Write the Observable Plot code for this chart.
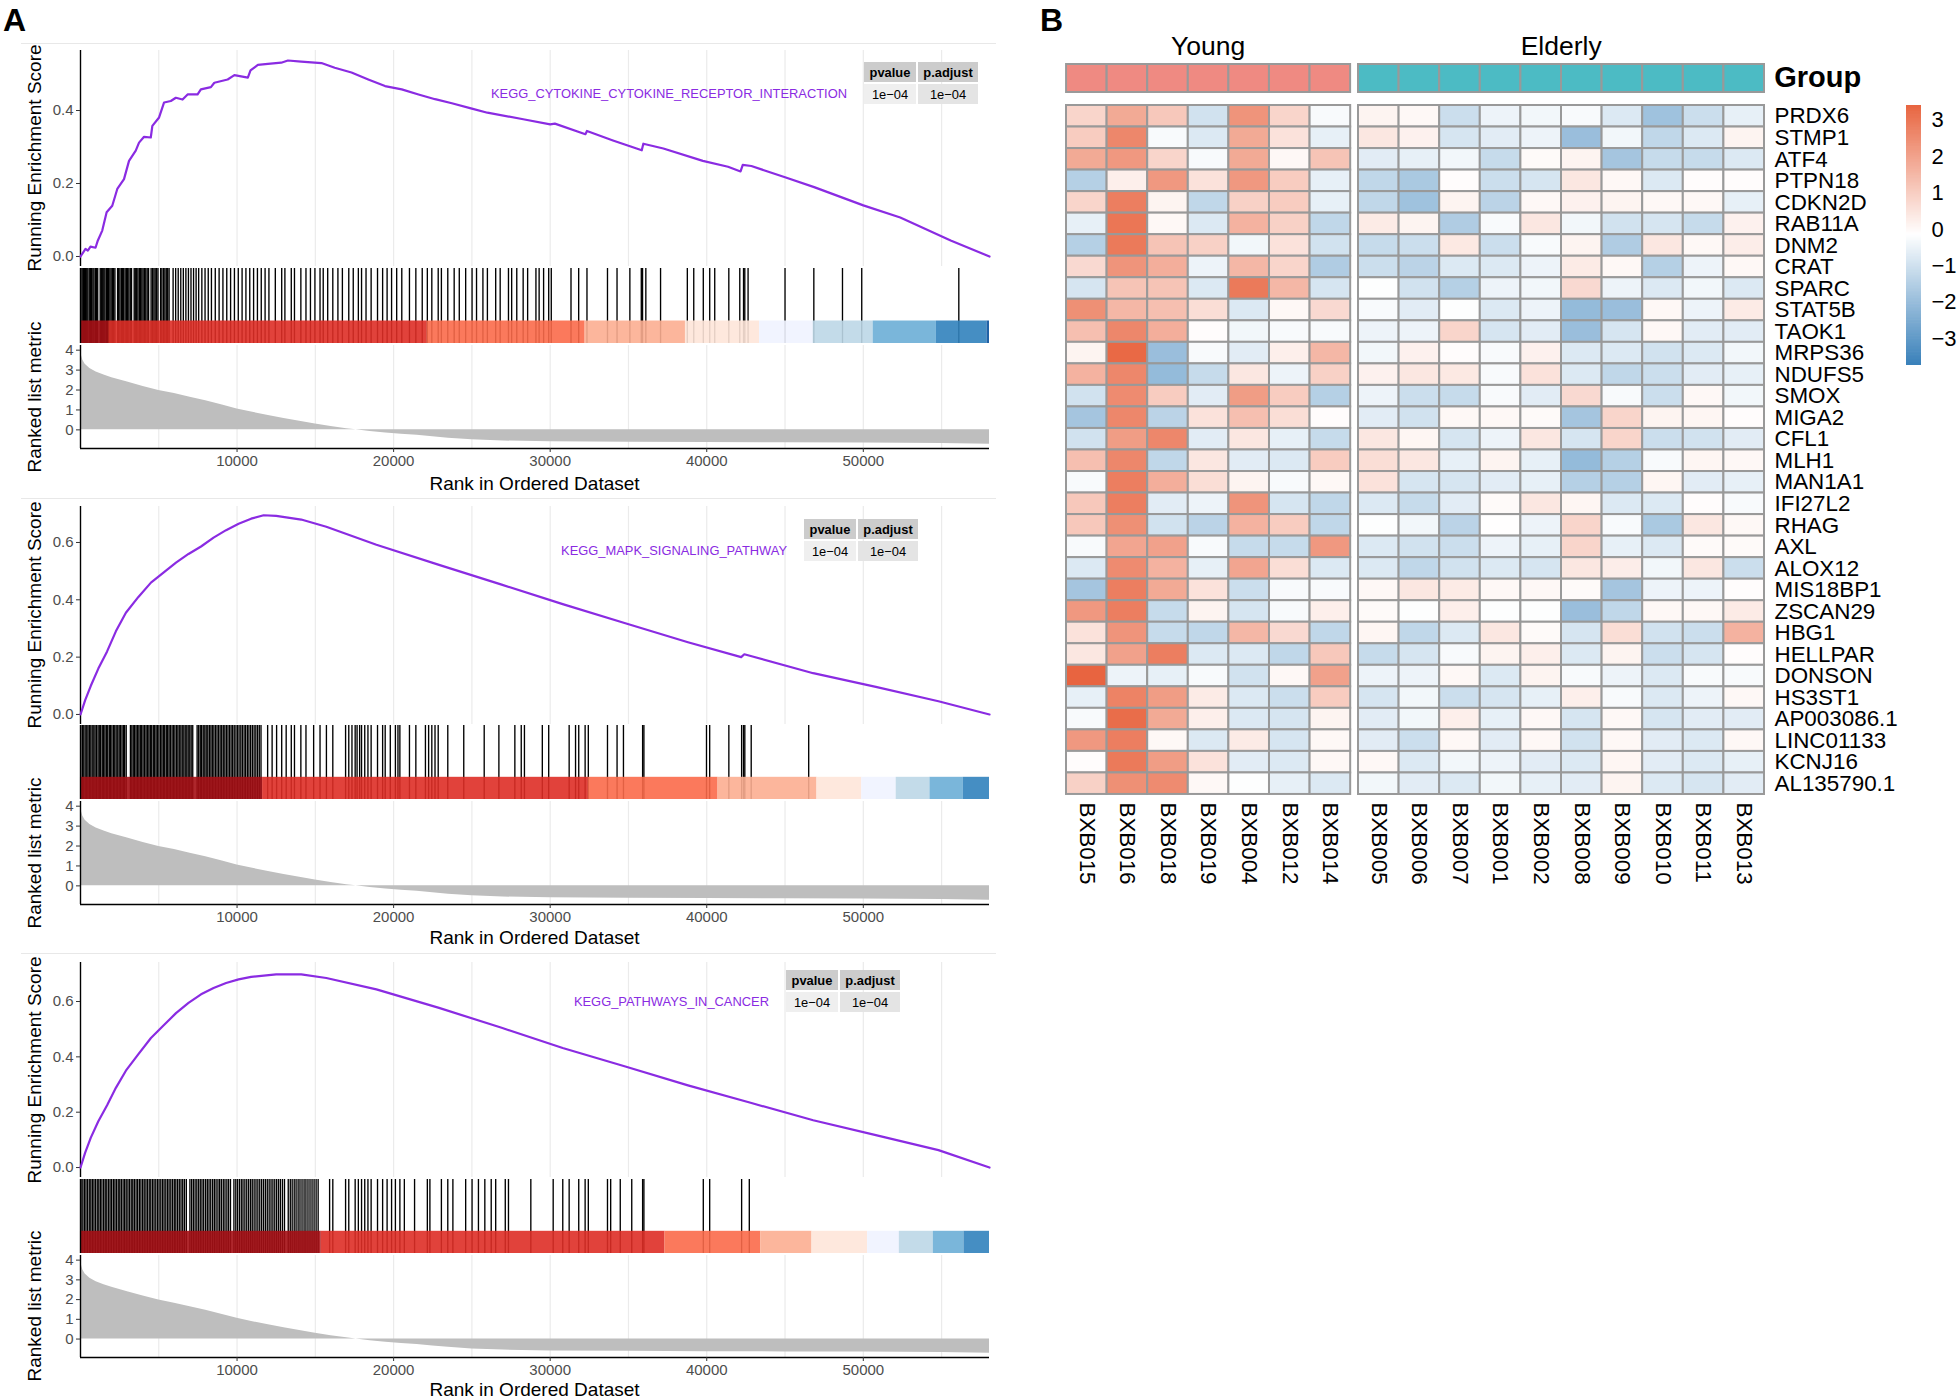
<!DOCTYPE html>
<html>
<head>
<meta charset="utf-8">
<script src="https://cdn.jsdelivr.net/npm/d3@7"></script>
<script src="https://cdn.jsdelivr.net/npm/@observablehq/plot@0.6"></script>
<style>
  html, body { margin: 0; padding: 0; background: #fff; }
  #root { position: relative; width: 1960px; height: 1399px; overflow: hidden; background: #fff;
          font-family: "Liberation Sans", Arial, Helvetica, sans-serif; }
  #root svg { overflow: visible; }
</style>
</head>
<body>
<div id="root"></div>
<script>
// ===================== DATA =====================
const pathways = ["KEGG_CYTOKINE_CYTOKINE_RECEPTOR_INTERACTION", "KEGG_MAPK_SIGNALING_PATHWAY", "KEGG_PATHWAYS_IN_CANCER"];
const pvalues = [1e-4, 1e-4, 1e-4];
const padjust = [1e-4, 1e-4, 1e-4];
const N_RANKED = 58060;
const rankTicks = [10000, 20000, 30000, 40000, 50000];
const metricTicks = [0, 1, 2, 3, 4];

// running enrichment score: [rank, ES]
const esP1 = [[1,0],[320,0.021],[470,0.016],[640,0.027],[960,0.024],[1110,0.044],[1390,0.071],[1670,0.121],[2030,0.139],[2350,0.185],[2780,0.212],[3100,0.262],[3530,0.29],[3740,0.312],[4060,0.328],[4490,0.326],[4590,0.358],[5020,0.381],[5340,0.422],[5770,0.426],[6090,0.435],[6520,0.43],[6840,0.444],[7480,0.444],[7690,0.458],[8330,0.464],[8550,0.476],[9400,0.485],[9830,0.497],[10690,0.49],[10860,0.51],[11330,0.525],[11970,0.528],[12820,0.531],[13250,0.537],[14100,0.534],[15390,0.53],[16240,0.517],[17310,0.504],[18380,0.485],[19450,0.467],[20520,0.458],[21590,0.444],[22650,0.431],[23720,0.42],[25000,0.405],[25990,0.394],[28280,0.376],[30000,0.362],[30300,0.364],[32250,0.335],[32350,0.344],[34010,0.318],[35850,0.291],[35950,0.309],[37230,0.296],[39750,0.262],[41360,0.246],[42160,0.233],[42300,0.251],[42850,0.248],[45000,0.217],[46860,0.19],[50000,0.14],[52360,0.107],[55580,0.044],[58060,0]];
const esP2 = [[1,0],[300,0.05],[660,0.10],[1140,0.16],[1700,0.22],[2260,0.29],[2900,0.355],[3700,0.41],[4500,0.46],[5300,0.495],[6100,0.53],[6900,0.56],[7700,0.586],[8500,0.617],[9300,0.643],[10100,0.665],[10900,0.683],[11700,0.695],[12500,0.693],[14100,0.68],[15700,0.655],[18900,0.592],[22900,0.522],[26900,0.453],[30800,0.385],[34800,0.318],[38800,0.252],[42200,0.2],[42400,0.21],[46800,0.144],[50800,0.096],[54800,0.046],[58060,0]];
const esP3 = [[1,0],[300,0.054],[660,0.108],[1140,0.167],[1700,0.225],[2260,0.288],[2900,0.35],[3700,0.41],[4500,0.468],[5300,0.513],[6100,0.558],[6900,0.595],[7700,0.626],[8500,0.649],[9300,0.667],[10100,0.68],[10900,0.689],[12500,0.698],[14100,0.698],[15700,0.685],[18900,0.644],[22900,0.577],[26900,0.505],[30800,0.432],[34800,0.365],[38800,0.297],[42800,0.234],[46800,0.171],[50800,0.117],[54800,0.063],[58060,0]];

// gene-set hits (rank positions)
const hitsP1 = [30,110,190,250,330,400,470,560,640,700,790,860,950,1020,1100,1260,1330,1420,1490,1560,1650,1720,1800,1880,1960,2050,2120,2200,2370,2440,2520,2610,2690,2760,2850,2930,3010,3090,3180,3260,3430,3500,3590,3670,3760,3840,3920,4000,4090,4170,4260,4350,4510,4600,4690,4770,4860,4950,5120,5200,5300,5390,5480,5570,5660,
  5916,6079,6242,6406,6569,6732,6895,7058,7222,7385,7548,7752,7956,8160,8364,8609,8854,9098,9343,9588,9833,10078,10322,10567,10812,11057,11302,11546,11791,12036,
  12444,12852,13056,13464,13668,14076,14402,14688,14974,15300,15504,15790,16116,16442,16728,17136,17422,17748,17952,18238,18564,18972,19298,19584,19870,20196,20522,21012,21420,21828,22154,22440,22848,23052,23460,23868,24194,24602,25010,25296,25704,25990,26520,26806,27336,27540,27866,28274,28560,29090,29294,29580,29906,30070,
  31330,31820,32350,33660,34270,35090,35820,35900,36110,37050,38760,39170,39780,40190,40510,41410,42110,42350,42430,42640,45000,46840,48670,49900,56100];
const hitsP2 = [20,120,210,300,400,480,570,660,750,850,930,1020,1120,1200,1290,1390,1470,1560,1650,1740,1840,1920,2010,2110,2190,2280,2380,2470,2550,2650,2740,2820,2920,3190,3280,3370,3460,3550,3640,3730,3820,3910,4000,4100,4190,4280,4370,4460,4550,4650,4740,4830,4920,5010,5110,5200,5290,5380,5480,5570,5660,5750,5850,5940,6030,6130,6220,6310,6410,6500,6600,6690,6790,6880,6980,7070,7170,7450,7550,7650,7740,7840,7940,8030,8130,8230,8330,8420,8520,8620,8720,8820,8920,9020,9120,9220,9320,9420,9520,9620,9720,9820,9930,10030,10130,10240,10340,10450,10550,10660,10760,10870,10980,11090,11200,11310,11420,11530,
  11954,12240,12526,12852,13138,13464,13668,14076,14402,14892,15300,15708,16116,16932,17136,17340,17544,17666,17830,17952,18156,18360,18564,18972,19298,19462,19788,20114,20278,20400,21012,21420,22032,22236,22440,22644,22848,23460,24480,25786,26724,27744,28152,28356,29498,29906,31212,31620,31824,32232,32436,33660,34272,34680,35904,35986,39984,40188,41412,42228,42350,42432,42840,46512];
const hitsP3 = [40,150,250,350,450,560,660,760,860,960,1070,1170,1270,1370,1480,1580,1680,1790,1890,1990,2100,2200,2300,2410,2510,2610,2720,2820,2920,3030,3130,3240,3340,3440,3550,3650,3760,3860,3970,4070,4180,4280,4390,4490,4600,4700,4810,4920,5020,5130,5240,5340,5450,5560,5660,5770,5880,5990,6090,6200,6310,6420,6530,6640,6760,6990,7100,7210,7320,7430,7540,7650,7760,7870,7990,8100,8210,8320,8440,8550,8660,8780,8890,9000,9120,9230,9350,9460,9580,9800,9920,10030,10150,10270,10380,10500,10620,10740,10860,10970,11090,11210,11330,11450,11570,11690,11810,11930,12050,12170,12290,12410,12530,12650,12770,12900,13030,13270,13400,13520,13650,13770,13900,14020,14150,14280,14400,14530,14660,14790,14920,15050,15180,
  15912,16116,16932,17136,17544,17748,17952,18156,18360,18564,18972,19298,19584,19870,20114,20400,20686,21338,22154,22318,23052,23460,23786,24602,25010,25418,25826,26234,26520,27132,27336,28764,30192,30804,31212,31824,32232,32436,33660,33864,34476,35210,35904,35986,39780,40188,42228,42718];

// rank bins of the colour strip: [start, end, palette bin]
const binsP1 = [[0,1800,9],[1800,22150,8],[22150,32230,7],[32230,38640,6],[38640,43370,5],[43370,46800,4],[46800,50630,3],[50630,54670,2],[54670,57900,1],[57900,58060,0]];
const binsP2 = [[0,11630,9],[11630,32440,8],[32440,40720,7],[40720,47040,6],[47040,49900,5],[49900,52100,4],[52100,54260,3],[54260,56390,2],[56390,58060,1]];
const binsP3 = [[0,15380,9],[15380,37330,8],[37330,43450,7],[43450,46720,6],[46720,50270,5],[50270,52300,4],[52300,54470,3],[54470,56430,2],[56430,58060,1]];

// ranked list metric: [rank, metric]
const rankedMetric = [[1,4.1],[60,3.75],[150,3.5],[300,3.3],[600,3.08],[1000,2.9],[1500,2.75],[2000,2.62],[3000,2.4],[4000,2.18],[5000,1.98],[6000,1.82],[7000,1.64],[8000,1.46],[9000,1.26],[10000,1.05],[11000,0.88],[12000,0.72],[13000,0.57],[14000,0.43],[15000,0.3],[16000,0.17],[17000,0.06],[17600,0],[18500,-0.08],[19500,-0.16],[20500,-0.22],[21500,-0.27],[22500,-0.35],[23500,-0.42],[25000,-0.5],[27000,-0.56],[30000,-0.6],[35000,-0.62],[40000,-0.64],[45000,-0.65],[50000,-0.66],[55000,-0.68],[58060,-0.72]];

// heatmap
const groups = ["Young", "Elderly"];
const samplesYoung = ["BXB015","BXB016","BXB018","BXB019","BXB004","BXB012","BXB014"];
const samplesElderly = ["BXB005","BXB006","BXB007","BXB001","BXB002","BXB008","BXB009","BXB010","BXB011","BXB013"];
const genes = ["PRDX6","STMP1","ATF4","PTPN18","CDKN2D","RAB11A","DNM2","CRAT","SPARC","STAT5B","TAOK1","MRPS36","NDUFS5","SMOX","MIGA2","CFL1","MLH1","MAN1A1","IFI27L2","RHAG","AXL","ALOX12","MIS18BP1","ZSCAN29","HBG1","HELLPAR","DONSON","HS3ST1","AP003086.1","LINC01133","KCNJ16","AL135790.1"];
const expr = [
  [0.8,1.8,1.1,-1.0,2.3,0.8,-0.3, 0.1,0.0,-1.1,-0.5,-0.4,-0.3,-0.8,-1.9,-1.1,-0.6],
  [1.0,2.6,-0.3,-0.8,1.8,0.5,-0.6, 0.4,0.15,-0.9,-0.7,-0.5,-2.0,-0.4,-1.3,-0.8,0.1],
  [1.8,2.2,0.8,-0.3,1.8,0.0,1.2, -0.7,-0.6,-0.4,-1.2,-0.05,0.1,-1.8,-1.2,-1.2,-0.8],
  [-1.5,0.2,2.2,0.5,2.2,1.0,-0.6, -1.3,-1.7,-0.1,-1.1,-0.9,0.4,0.0,-0.8,-0.1,-0.1],
  [0.8,2.8,0.1,-1.3,0.9,1.0,-0.6, -1.3,-1.9,0.1,-1.4,0.0,0.15,0.1,0.0,0.0,-0.6],
  [-0.6,3.0,0.0,-0.8,1.6,0.9,-1.3, 0.3,0.1,-1.6,-0.3,0.4,-0.4,-1.0,-0.9,-1.2,0.15],
  [-1.5,2.9,1.2,0.9,-0.4,0.5,-1.0, -1.2,-1.1,0.35,-1.1,-0.3,0.1,-1.6,0.4,0.0,0.25],
  [0.7,2.3,1.7,-0.5,1.5,0.8,-1.6, -1.1,-1.4,-0.8,-0.8,-0.5,0.3,0.0,-1.5,-0.5,0.0],
  [-0.9,1.2,1.2,-0.8,2.9,1.5,-0.9, -0.2,-1.0,-1.5,-0.5,-0.4,0.7,-0.5,-0.8,-0.4,-0.8],
  [2.4,1.5,1.3,0.6,-0.8,0.0,0.7, -0.3,-0.7,-0.2,-0.8,-0.5,-2.1,-2.0,0.0,-0.5,0.3],
  [1.3,2.6,1.7,-0.1,-0.4,-0.3,-0.3, -0.5,-0.5,0.8,-0.9,-0.7,-2.0,-0.9,0.0,-0.7,-0.7],
  [0.1,3.3,-2.0,-0.3,-0.7,0.2,1.5, -0.4,0.15,-0.1,-0.3,0.15,-0.8,-0.8,-1.0,-0.8,-0.4],
  [1.6,2.6,-2.1,-1.2,0.4,-0.5,0.9, 0.15,0.4,0.35,-0.3,0.5,-0.8,-1.3,-1.1,-0.7,-0.6],
  [-1.0,2.5,1.0,-0.7,2.1,1.0,-1.5, -0.5,-1.1,-1.2,-0.3,-0.7,0.7,-0.3,-1.1,0.0,-0.4],
  [-1.8,2.6,-1.4,0.5,1.3,0.6,-0.1, -0.7,-1.0,0.0,0.0,-0.05,-1.8,0.8,0.1,0.05,-0.1],
  [-1.0,2.1,2.6,-0.7,0.4,-0.6,-1.2, 0.4,0.05,-0.9,-0.5,0.4,-0.9,0.8,-1.1,-1.0,-0.7],
  [1.3,2.6,-1.3,0.4,-0.7,-0.8,1.0, 0.6,0.4,-0.6,0.1,-0.6,-2.1,-1.5,-0.3,0.05,0.0],
  [-0.3,2.8,1.7,0.6,0.1,-0.3,0.0, 0.5,-0.9,-0.9,-0.7,-0.6,-1.5,-1.5,0.05,-0.7,-0.6],
  [1.1,2.8,-0.7,-0.5,2.3,-0.9,-1.3, -0.8,-1.2,-0.7,-0.05,0.4,0.05,-0.8,-0.8,-0.1,-0.3],
  [1.1,2.4,-1.0,-1.4,1.6,1.0,-1.3, -0.2,-0.4,-1.4,-0.15,-0.5,0.8,-0.3,-1.7,0.4,0.0],
  [-0.3,1.9,2.0,-0.3,-1.2,-1.2,2.2, -0.8,-1.0,-1.1,-0.5,-0.6,0.8,-0.6,-0.8,-0.05,-0.05],
  [-0.8,2.5,1.6,-0.6,1.9,0.6,-0.8, -0.8,-1.3,-1.0,-0.8,-0.9,0.4,0.25,-0.4,0.4,-1.1],
  [-1.8,2.8,1.8,0.5,-1.1,-0.3,-0.3, 0.0,0.4,0.3,0.0,0.0,-0.05,-1.8,-0.5,-0.5,-0.1],
  [2.2,2.8,-1.2,0.1,-0.9,-0.3,0.2, -0.05,-0.2,0.2,-0.2,-0.2,-2.0,-1.3,0.0,0.0,0.3],
  [0.5,2.3,-1.2,-1.3,1.5,0.7,-1.3, 0.05,-1.3,-0.8,0.4,-0.05,-0.9,0.6,-1.0,-1.1,1.6],
  [0.4,2.0,2.8,-0.8,-0.8,-1.3,1.1, -1.2,-0.9,-0.3,0.1,0.2,-0.8,0.1,-1.1,-0.9,-0.1],
  [3.4,-0.5,-0.6,-0.3,-1.0,0.0,2.0, -0.5,-0.5,0.0,-0.8,0.1,-0.3,-0.5,-0.8,-0.3,-0.3],
  [-0.6,2.7,2.1,0.3,-0.8,-1.1,1.0, -0.9,-0.4,-1.1,-0.9,-0.6,0.2,-0.3,-0.8,-0.5,0.0],
  [-0.3,3.2,1.8,0.2,-0.8,-0.9,0.1, -0.7,-0.4,0.2,-0.6,0.0,-0.9,0.0,-0.9,-0.7,-0.7],
  [2.2,2.8,0.0,-0.8,0.3,-0.9,0.0, -0.7,-1.1,0.0,-0.7,0.0,-1.0,0.0,-0.7,-0.8,0.0],
  [-0.1,2.9,2.1,0.5,-0.7,-0.8,0.0, 0.0,-0.8,-0.4,-0.5,-0.7,-0.8,0.05,-0.7,-0.8,-0.6],
  [0.9,2.4,2.5,0.0,-0.2,-0.6,-0.8, -0.4,-0.7,-0.8,-0.4,-0.6,-0.7,0.1,-0.8,-0.9,-0.7]
];
const legendRange = [-3.74, 3.41];
const legendTicks = [-3, -2, -1, 0, 1, 2, 3];

// ===================== STYLE / LAYOUT =====================
const FONT = '"Liberation Sans", Arial, Helvetica, sans-serif';
const PURPLE = "#8a2be2";
const GRID = "#EBEBEB";
const binColors = ["#08519C","#3182BD","#6BAED6","#BDD7E7","#EFF3FF","#FEE5D9","#FCAE91","#FB6A4A","#DE2D26","#A50F15"];
const groupColors = {Young: "#EF8A82", Elderly: "#4CBBC4"};
const HEAT_LOW = "#3A81BA", HEAT_HIGH = "#E8643F";
const CELL_BORDER = "#999999";
const LABEL_SIZE = 22.4;

const W = 1000, ML = 80, MR = 11;
const X_DOMAIN = [1, N_RANKED];
const RANK_DOMAIN = [-0.935, 4.235];
const gridTicks = d3.range(5000, N_RANKED, 5000);

const layout = [
  {sepY: 43,  esTop: 50,  esBottom: 266,  esDomain: [-0.0274, 0.5644], esTicks: [0, 0.2, 0.4],      hitTop: 268,  hitBottom: 343,  rankTop: 345,  rankBottom: 448,  titleY: 484,  tableLeft: 864, tableTop: 62},
  {sepY: 498, esTop: 506, esBottom: 724,  esDomain: [-0.035, 0.7255],  esTicks: [0, 0.2, 0.4, 0.6], hitTop: 725,  hitBottom: 799,  rankTop: 801,  rankBottom: 904,  titleY: 938,  tableLeft: 804, tableTop: 519},
  {sepY: 953, esTop: 962, esBottom: 1177, esDomain: [-0.036, 0.741],   esTicks: [0, 0.2, 0.4, 0.6], hitTop: 1179, hitBottom: 1253, rankTop: 1255, rankBottom: 1357, titleY: 1390, tableLeft: 786, tableTop: 970}
];
const esSeries = [esP1, esP2, esP3];
const hitSeries = [hitsP1, hitsP2, hitsP3];
const binSeries = [binsP1, binsP2, binsP3];

const root = document.getElementById("root");
const baseStyle = {fontFamily: FONT, fontSize: "15px", background: "transparent", overflow: "visible"};

function place(el, left, top) {
  el.style.position = "absolute";
  el.style.left = left + "px";
  el.style.top = top + "px";
  root.appendChild(el);
  return el;
}
function label(text, {x, y, size, weight = "normal", color = "#000", anchor = "start", rotate = 0}) {
  const d = document.createElement("div");
  d.textContent = text;
  d.style.cssText = `position:absolute;left:${x}px;top:${y}px;font-family:${FONT};font-size:${size}px;font-weight:${weight};color:${color};white-space:nowrap;line-height:1.15;`;
  const tx = anchor === "middle" ? "-50%" : anchor === "end" ? "-100%" : "0";
  d.style.transform = `translate(${tx},-50%)` + (rotate ? ` rotate(${rotate}deg)` : "");
  root.appendChild(d);
  return d;
}
function box(left, top, w, h, bg, text, bold) {
  const d = document.createElement("div");
  d.textContent = text;
  d.style.cssText = `position:absolute;left:${left}px;top:${top}px;width:${w}px;height:${h}px;background:${bg};font-family:${FONT};font-size:12.9px;font-weight:${bold ? "bold" : "normal"};color:#000;display:flex;align-items:center;justify-content:center;`;
  root.appendChild(d);
}
function hline(y, x1, x2, color) {
  const d = document.createElement("div");
  d.style.cssText = `position:absolute;left:${x1}px;top:${y}px;width:${x2 - x1}px;height:1px;background:${color};`;
  root.appendChild(d);
}
const fmtSci = v => {
  const e = Math.floor(Math.log10(v));
  const m = +(v / Math.pow(10, e)).toFixed(2);
  return `${m}e${e < 0 ? "\u2212" : "+"}${String(Math.abs(e)).padStart(2, "0")}`;
};
const fmtMinus = d => (d < 0 ? "\u2212" + Math.abs(d) : String(d));

// ===================== PANEL A : GSEA =====================
label("A", {x: 3, y: 20, size: 32, weight: "bold"});

layout.forEach((L, i) => {
  hline(L.sepY, 21, 996, "#E8E8E8");

  // running enrichment score
  const mt = 6, mb = 2;
  const esSvg = Plot.plot({
    width: W, height: (L.esBottom - L.esTop) + mt + mb,
    marginLeft: ML, marginRight: MR, marginTop: mt, marginBottom: mb,
    style: baseStyle,
    x: {domain: X_DOMAIN, axis: null},
    y: {domain: L.esDomain, axis: null},
    marks: [
      Plot.gridX({ticks: gridTicks, stroke: GRID, strokeOpacity: 1, strokeWidth: 1.2}),
      Plot.ruleX([X_DOMAIN[0]], {stroke: "black", strokeWidth: 1.4}),
      Plot.axisY({ticks: L.esTicks, tickFormat: d3.format(".1f"), tickSize: 4, tickPadding: 3, fontSize: 15, fill: "#4D4D4D", stroke: "#333", label: null}),
      Plot.line(esSeries[i], {x: d => d[0], y: d => d[1], stroke: PURPLE, strokeWidth: 2.2})
    ]
  });
  place(esSvg, 0, L.esTop - mt);

  // hits + colour strip
  const hitSvg = Plot.plot({
    width: W, height: L.hitBottom - L.hitTop,
    marginLeft: ML, marginRight: MR, marginTop: 0, marginBottom: 0,
    style: baseStyle,
    x: {domain: X_DOMAIN, axis: null},
    y: {domain: [0, 1], axis: null},
    color: {type: "identity"},
    marks: [
      Plot.ruleX(hitSeries[i], {stroke: "black", strokeWidth: 1.35}),
      Plot.rect(binSeries[i], {x1: d => d[0], x2: d => d[1], y1: 0, y2: 0.3, fill: d => binColors[d[2]], fillOpacity: 0.9}),
      Plot.ruleX([X_DOMAIN[0]], {stroke: "black", strokeWidth: 1.4})
    ]
  });
  place(hitSvg, 0, L.hitTop);

  // ranked list metric
  const rmt = 2, rmb = 30;
  const rankSvg = Plot.plot({
    width: W, height: (L.rankBottom - L.rankTop) + rmt + rmb,
    marginLeft: ML, marginRight: MR, marginTop: rmt, marginBottom: rmb,
    style: baseStyle,
    x: {domain: X_DOMAIN, axis: null},
    y: {domain: RANK_DOMAIN, axis: null},
    marks: [
      Plot.gridX({ticks: gridTicks, stroke: GRID, strokeOpacity: 1, strokeWidth: 1.2}),
      Plot.areaY(rankedMetric, {x: d => d[0], y: d => d[1], fill: "#BEBEBE"}),
      Plot.ruleX([X_DOMAIN[0]], {stroke: "black", strokeWidth: 1.4}),
      Plot.ruleY([RANK_DOMAIN[0]], {stroke: "black", strokeWidth: 1.4}),
      Plot.axisY({ticks: metricTicks, tickFormat: d => String(d), tickSize: 4, tickPadding: 3, fontSize: 15, fill: "#4D4D4D", stroke: "#333", label: null}),
      Plot.axisX({ticks: rankTicks, tickFormat: d => String(d), tickSize: 4, tickPadding: 3, fontSize: 15, fill: "#4D4D4D", stroke: "#333", label: null})
    ]
  });
  place(rankSvg, 0, L.rankTop - rmt);

  // axis titles
  label("Running Enrichment Score", {x: 35, y: (L.esTop + L.esBottom) / 2, size: 19, anchor: "middle", rotate: -90});
  label("Ranked list metric", {x: 35, y: (L.rankTop + L.rankBottom) / 2, size: 19, anchor: "middle", rotate: -90});
  label("Rank in Ordered Dataset", {x: (ML + W - MR) / 2, y: L.titleY, size: 19, anchor: "middle"});

  // p-value table
  const c1 = 52, c2 = 60, gap = 2, rh = 20;
  box(L.tableLeft, L.tableTop, c1, rh, "#CCCCCC", "pvalue", true);
  box(L.tableLeft + c1 + gap, L.tableTop, c2, rh, "#CCCCCC", "p.adjust", true);
  box(L.tableLeft, L.tableTop + rh + gap, c1, rh, "#EFEFEF", fmtSci(pvalues[i]), false);
  box(L.tableLeft + c1 + gap, L.tableTop + rh + gap, c2, rh, "#E4E4E4", fmtSci(padjust[i]), false);
  label(pathways[i], {x: L.tableLeft - 17, y: L.tableTop + rh + gap + rh / 2, size: 12.9, color: PURPLE, anchor: "end"});
});

// ===================== PANEL B : HEATMAP =====================
label("B", {x: 1040, y: 20, size: 32, weight: "bold"});

const CW = 40.6, RH = 689 / 32;
const HEAT_TOP = 105, YOUNG_LEFT = 1066, COL_GAP = 8;
const ELDER_LEFT = YOUNG_LEFT + samplesYoung.length * CW + COL_GAP;
const ANNO_TOP = 64, ANNO_H = 28;

const heatColor = {type: "linear", domain: [legendRange[0], (legendRange[0] + legendRange[1]) / 2, legendRange[1]],
                   range: [HEAT_LOW, "#ffffff", HEAT_HIGH], clamp: true};

const allSamples = samplesYoung.concat(samplesElderly);
const heatData = [];
genes.forEach((g, r) => allSamples.forEach((s, c) => heatData.push({gene: g, sample: s, value: expr[r][c]})));

function heatBlock(samples, left, showGenes) {
  const m = 2;
  const mr = showGenes ? 200 : m;
  const data = heatData.filter(d => samples.includes(d.sample));
  const marks = [
    Plot.cell(data, {x: "sample", y: "gene", fill: "value", stroke: CELL_BORDER, strokeWidth: 2, inset: 0}),
    Plot.text(samples, {x: d => d, frameAnchor: "bottom", dy: 8, rotate: 90, textAnchor: "start", lineAnchor: "middle", fontSize: LABEL_SIZE, fill: "#000"})
  ];
  if (showGenes) marks.push(Plot.text(genes, {y: d => d, frameAnchor: "right", dx: 10, textAnchor: "start", fontSize: LABEL_SIZE, fill: "#000"}));
  const svg = Plot.plot({
    width: samples.length * CW + m + mr, height: genes.length * RH + m + 110,
    marginLeft: m, marginRight: mr, marginTop: m, marginBottom: 110,
    style: baseStyle,
    x: {domain: samples, padding: 0, round: false, axis: null},
    y: {domain: genes, padding: 0, round: false, axis: null},
    color: heatColor,
    marks
  });
  place(svg, left - m, HEAT_TOP - m);
}
heatBlock(samplesYoung, YOUNG_LEFT, false);
heatBlock(samplesElderly, ELDER_LEFT, true);

function annoBlock(samples, left, group) {
  const m = 2;
  const svg = Plot.plot({
    width: samples.length * CW + 2 * m, height: ANNO_H + 2 * m,
    marginLeft: m, marginRight: m, marginTop: m, marginBottom: m,
    style: baseStyle,
    x: {domain: samples, padding: 0, round: false, axis: null},
    y: {domain: ["Group"], padding: 0, round: false, axis: null},
    marks: [Plot.cell(samples, {x: d => d, y: () => "Group", fill: groupColors[group], stroke: CELL_BORDER, strokeWidth: 2, inset: 0})]
  });
  place(svg, left - m, ANNO_TOP - m);
  label(group, {x: left + samples.length * CW / 2, y: 46, size: 26.5, anchor: "middle"});
}
annoBlock(samplesYoung, YOUNG_LEFT, groups[0]);
annoBlock(samplesElderly, ELDER_LEFT, groups[1]);
label("Group", {x: ELDER_LEFT + samplesElderly.length * CW + 10, y: 78, size: 29, weight: "bold"});

// colour legend
const legStep = 0.04;
const legVals = d3.range(legendRange[0], legendRange[1], legStep);
const legSvg = Plot.plot({
  width: 15 + 60, height: 260,
  marginLeft: 0, marginRight: 60, marginTop: 0, marginBottom: 0,
  style: baseStyle,
  x: {domain: [0, 1], axis: null},
  y: {domain: legendRange, axis: null},
  color: heatColor,
  marks: [
    Plot.rect(legVals, {x1: 0, x2: 1, y1: d => d, y2: d => Math.min(d + legStep * 1.5, legendRange[1]), fill: d => d}),
    Plot.text(legendTicks, {y: d => d, frameAnchor: "right", dx: 10, textAnchor: "start", text: fmtMinus, fontSize: 22, fill: "#000"})
  ]
});
place(legSvg, 1906, 105);
</script>
</body>
</html>
